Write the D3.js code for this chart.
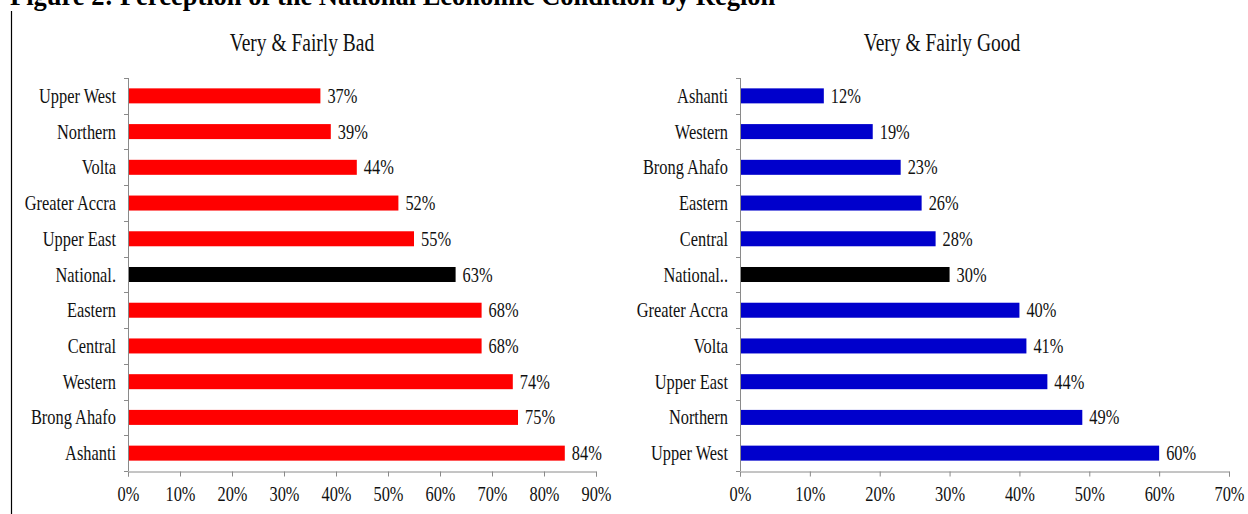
<!DOCTYPE html>
<html>
<head>
<meta charset="utf-8">
<script src="https://cdn.jsdelivr.net/npm/d3@7"></script>
<style>
  body { margin: 0; background: #fff; }
  svg text { font-family: "Liberation Serif", "Times New Roman", serif; fill: #111; }
</style>
</head>
<body>
<svg id="chart" width="1248" height="514"></svg>
<script>
// Data
const badRegions = ['Upper West', 'Northern', 'Volta', 'Greater Accra', 'Upper East', 'National.',
    'Eastern', 'Central', 'Western', 'Brong Ahafo', 'Ashanti'];
const badValues = [37, 39, 44, 52, 55, 63, 68, 68, 74, 75, 84];

const goodRegions = ['Ashanti', 'Western', 'Brong Ahafo', 'Eastern', 'Central', 'National..',
    'Greater Accra', 'Volta', 'Upper East', 'Northern', 'Upper West'];
const goodValues = [12, 19, 23, 26, 28, 30, 40, 41, 44, 49, 60];

const SX = 0.78; // the original image is squeezed horizontally
const svg = d3.select('#chart');

// Figure caption (cut at the top edge, like the source)
svg.append('text')
    .attr('x', 10)
    .attr('y', 5)
    .style('font-weight', 'bold')
    .style('font-size', '26.5px')
    .style('fill', '#000')
    .text('Figure 2: Perception of the National Economic Condition by Region');

// frame line on the left
svg.append('line')
    .attr('x1', 11.5).attr('x2', 11.5)
    .attr('y1', 11).attr('y2', 514)
    .attr('stroke', '#000')
    .attr('stroke-width', 1.2);

function squeezed(g, x, y, txt, anchor, size) {
    return g.append('text')
        .attr('transform', `translate(${x},${y}) scale(${SX},1)`)
        .attr('text-anchor', anchor)
        .style('font-size', size + 'px')
        .text(txt);
}

function buildPanel(cfg) {
    const g = svg.append('g');

    const x = d3.scaleLinear()
        .domain([0, cfg.max])
        .range([cfg.left, cfg.right]);

    const y = d3.scaleBand()
        .domain(cfg.regions)
        .range([78, 471])
        .paddingInner(0.58)
        .paddingOuter(0.29);

    // Title
    squeezed(g, cfg.titleX, 51, cfg.title, 'middle', 25);

    // Bars
    g.selectAll('rect.bar')
        .data(cfg.regions)
        .join('rect')
        .attr('class', 'bar')
        .attr('x', x(0) + 1)
        .attr('y', d => y(d))
        .attr('height', y.bandwidth())
        .attr('width', (d, i) => x(cfg.values[i]) - x(0) - 1)
        .attr('fill', d => d.startsWith('National') ? '#000' : cfg.color);

    // Value labels + category labels
    cfg.regions.forEach((d, i) => {
        squeezed(g, x(cfg.values[i]) + 7, y(d) + y.bandwidth() / 2 + 7, cfg.values[i] + '%', 'start', 21);
        squeezed(g, x(0) - 12, y(d) + y.bandwidth() / 2 + 7, d, 'end', 21);
    });

    // Y axis with separators
    const step = y.step();
    const bounds = d3.range(cfg.regions.length + 1).map(i => 78 + i * step);
    g.append('line')
        .attr('x1', x(0) + 0.5).attr('x2', x(0) + 0.5)
        .attr('y1', 78).attr('y2', 471)
        .attr('stroke', '#8a8a8a');
    g.selectAll('line.sep')
        .data(bounds)
        .join('line')
        .attr('class', 'sep')
        .attr('x1', x(0) - 4).attr('x2', x(0))
        .attr('y1', d => Math.round(d) + 0.5)
        .attr('y2', d => Math.round(d) + 0.5)
        .attr('stroke', '#8a8a8a');

    // X axis
    const ax = g.append('g')
        .attr('transform', 'translate(0,471.5)')
        .call(d3.axisBottom(x)
            .tickValues(d3.range(0, cfg.max + 1, 10))
            .tickSize(5)
            .tickFormat(d => d + '%'));
    ax.select('.domain').attr('stroke', '#8a8a8a');
    ax.selectAll('.tick line').attr('stroke', '#8a8a8a');
    ax.selectAll('.tick text')
        .attr('y', 15)
        .attr('transform', `scale(${SX},1)`)
        .style('font-size', '21px')
        .style('font-family', '"Liberation Serif", serif')
        .attr('fill', '#111');
}

buildPanel({
    regions: badRegions, values: badValues, max: 90,
    left: 128, right: 596, color: '#ff0000',
    title: 'Very & Fairly Bad', titleX: 302
});

buildPanel({
    regions: goodRegions, values: goodValues, max: 70,
    left: 740, right: 1229, color: '#0000cc',
    title: 'Very & Fairly Good', titleX: 942
});
</script>
</body>
</html>
